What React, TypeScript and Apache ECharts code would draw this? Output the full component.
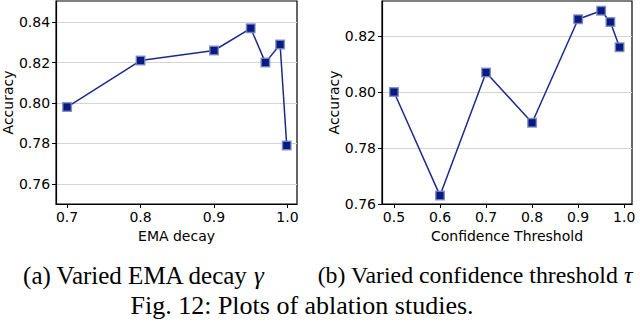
import React, { useEffect, useRef } from "react";
import * as echarts from "echarts";

const emaDecay = [0.7, 0.8, 0.9, 0.95, 0.97, 0.99, 0.999];
const emaAccuracy = [0.798, 0.821, 0.826, 0.837, 0.82, 0.829, 0.779];
const confThreshold = [0.5, 0.6, 0.7, 0.8, 0.9, 0.95, 0.97, 0.99];
const confAccuracy = [0.8, 0.763, 0.807, 0.789, 0.826, 0.829, 0.825, 0.816];

const emaXTicks = [0.7, 0.8, 0.9, 1.0];
const emaYTicks = [0.76, 0.78, 0.8, 0.82, 0.84];
const confXTicks = [0.5, 0.6, 0.7, 0.8, 0.9, 1.0];
const confYTicks = [0.76, 0.78, 0.8, 0.82];

const captionA = "(a) Varied EMA decay ";
const captionB = "(b) Varied confidence threshold ";
const figCaption = "Fig. 12: Plots of ablation studies.";

const TICK_FONT = "DejaVu Sans";
const SERIF = "Liberation Serif";

function xAxis(gridIndex: number, min: number, max: number, ticks: number[], name: string) {
  return {
    type: "value",
    gridIndex,
    min,
    max,
    name,
    nameLocation: "middle",
    nameGap: 20,
    nameTextStyle: { fontFamily: TICK_FONT, fontSize: 14, color: "#000" },
    axisLine: { show: true, onZero: false, lineStyle: { color: "#000", width: 1.2 } },
    axisTick: { show: true, customValues: ticks, length: 4, lineStyle: { color: "#000", width: 1 } },
    axisLabel: {
      customValues: ticks,
      formatter: (v: number) => v.toFixed(1),
      fontFamily: TICK_FONT,
      fontSize: 14,
      color: "#000",
      margin: 6,
    },
    splitLine: { show: false },
  };
}

function yAxis(gridIndex: number, min: number, max: number, ticks: number[]) {
  return {
    type: "value",
    gridIndex,
    min,
    max,
    name: "Accuracy",
    nameLocation: "middle",
    nameGap: 36,
    nameTextStyle: { fontFamily: TICK_FONT, fontSize: 14, color: "#000" },
    axisLine: { show: true, onZero: false, lineStyle: { color: "#000", width: 1.2 } },
    axisTick: { show: true, customValues: ticks, length: 4, lineStyle: { color: "#000", width: 1 } },
    axisLabel: {
      customValues: ticks,
      formatter: (v: number) => v.toFixed(2),
      fontFamily: TICK_FONT,
      fontSize: 14,
      color: "#000",
      margin: 6,
    },
    splitLine: { show: true, lineStyle: { color: "#d4d4d4", width: 1 } },
  };
}

function lineSeries(idx: number, xs: number[], ys: number[]) {
  return {
    type: "line",
    xAxisIndex: idx,
    yAxisIndex: idx,
    data: xs.map((x, i) => [x, ys[i]]),
    symbol: "rect",
    symbolSize: 8.5,
    showAllSymbol: true,
    lineStyle: { color: "#1b2a8c", width: 1.5 },
    itemStyle: { color: "#0b1a7e", borderColor: "rgba(120,135,200,0.85)", borderWidth: 1.5 },
    z: 5,
  };
}

function caption(x: number, y: number, text: string, sym: string, size: number) {
  return {
    type: "text",
    x,
    y,
    style: {
      text: "{n|" + text + "}{m|" + sym + "}",
      align: "center",
      verticalAlign: "middle",
      fill: "#000",
      rich: {
        n: { fontFamily: SERIF, fontSize: size, fill: "#000" },
        m: { fontFamily: SERIF, fontSize: size, fontStyle: "italic", fill: "#000" },
      },
    },
  };
}

export default function App() {
  const ref = useRef<HTMLDivElement>(null);
  useEffect(() => {
    document.body.style.margin = "0";
    const chart = echarts.init(ref.current!, null, { renderer: "svg" });
    chart.setOption({
      animation: false,
      grid: [
        { left: 52, top: 1, width: 245, height: 203, show: true, borderColor: "#000", borderWidth: 1.2, backgroundColor: "transparent" },
        { left: 382, top: 1, width: 250, height: 203, show: true, borderColor: "#000", borderWidth: 1.2, backgroundColor: "transparent" },
      ],
      xAxis: [
        xAxis(0, 0.685, 1.013, emaXTicks, "EMA decay"),
        xAxis(1, 0.474, 1.017, confXTicks, "Confidence Threshold"),
      ],
      yAxis: [
        yAxis(0, 0.75, 0.8505, emaYTicks),
        yAxis(1, 0.76, 0.8325, confYTicks),
      ],
      series: [lineSeries(0, emaDecay, emaAccuracy), lineSeries(1, confThreshold, confAccuracy)],
      graphic: [
        caption(143, 275, captionA, "γ", 25),
        caption(475, 275, captionB, "τ", 23.8),
        {
          type: "text",
          x: 302,
          y: 305,
          style: {
            text: figCaption,
            align: "center",
            verticalAlign: "middle",
            fontFamily: SERIF,
            fontSize: 26,
            fill: "#000",
          },
        },
      ],
    });
    return () => chart.dispose();
  }, []);
  return <div ref={ref} style={{ width: 640, height: 322 }} />;
}
